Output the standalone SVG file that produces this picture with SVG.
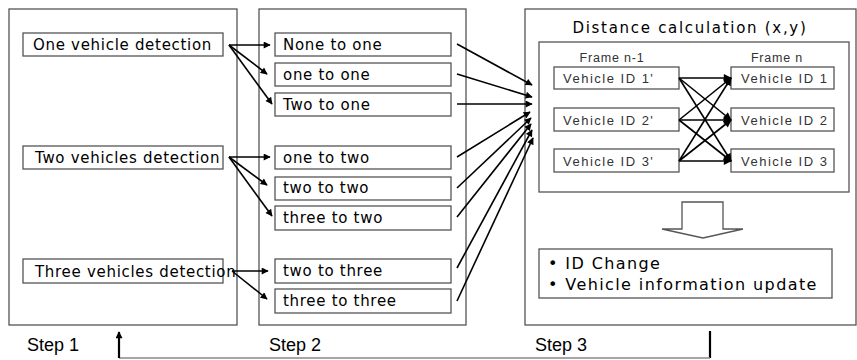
<svg xmlns="http://www.w3.org/2000/svg" width="857" height="360" viewBox="0 0 857 360">
<defs>
<marker id="ah" viewBox="0 0 10 10" refX="9" refY="5" markerWidth="9" markerHeight="7" markerUnits="userSpaceOnUse" orient="auto">
<path d="M0,0 L10,5 L0,10 z" fill="#000"/>
</marker>
<marker id="ahb" viewBox="0 0 10 10" refX="9" refY="5" markerWidth="10" markerHeight="8" markerUnits="userSpaceOnUse" orient="auto">
<path d="M0,0 L10,5 L0,10 z" fill="#000"/>
</marker>
</defs>
<style>
.step{fill:#fff;stroke:#555;stroke-width:1.3}
.nb{fill:#fff;stroke:#555;stroke-width:1.3}
.t{font-family:"DejaVu Sans",sans-serif;font-size:15px;letter-spacing:0.7px;fill:#000}
.v{font-family:"Liberation Sans",Arial,sans-serif;font-size:13px;letter-spacing:1.5px;fill:#333}
.f{font-family:"Liberation Sans",Arial,sans-serif;font-size:12.5px;letter-spacing:0.8px;fill:#333}
.s{font-family:"Liberation Sans",Arial,sans-serif;font-size:18px;fill:#000}
.b{font-family:"DejaVu Sans",sans-serif;font-size:16px;letter-spacing:1.4px;fill:#000}
.c line{stroke:#000;stroke-width:1.6;marker-end:url(#ah)}
.x line{stroke:#000;stroke-width:1.6;marker-end:url(#ahb)}
</style>
<rect width="857" height="360" fill="#fff"/>

<g id="step1">
<rect class="step" x="9" y="9" width="228" height="316"/>
<text class="s" x="27" y="351">Step 1</text>
</g>
<g id="step2">
<rect class="step" x="259" y="9" width="207" height="316"/>
<text class="s" x="269" y="351">Step 2</text>
</g>
<g id="step3">
<rect class="step" x="525" y="9" width="331" height="316"/>
<text class="s" x="535" y="351">Step 3</text>
<text x="690" y="33" text-anchor="middle" style="font-family:'DejaVu Sans',sans-serif;font-size:15px;letter-spacing:1.7px">Distance calculation (x,y)</text>
</g>

<g id="one-vehicle"><rect class="nb" x="23" y="33" width="200" height="23"/><text class="t" x="33" y="50">One vehicle detection</text></g>
<g id="two-vehicles"><rect class="nb" x="23" y="146" width="200" height="23"/><text class="t" x="35" y="163">Two vehicles detection</text></g>
<g id="three-vehicles"><rect class="nb" x="23" y="259" width="200" height="24"/><text class="t" x="35" y="277">Three vehicles detection</text></g>

<g id="none-to-one"><rect class="nb" x="275" y="33" width="176" height="23"/><text class="t" x="283" y="50">None to one</text></g>
<g id="one-to-one"><rect class="nb" x="275" y="63" width="176" height="23"/><text class="t" x="283" y="80">one to one</text></g>
<g id="two-to-one"><rect class="nb" x="275" y="93" width="176" height="23"/><text class="t" x="283" y="110">Two to one</text></g>
<g id="one-to-two"><rect class="nb" x="275" y="146" width="176" height="23"/><text class="t" x="283" y="163">one to two</text></g>
<g id="two-to-two"><rect class="nb" x="275" y="177" width="176" height="23"/><text class="t" x="283" y="193">two to two</text></g>
<g id="three-to-two"><rect class="nb" x="275" y="206" width="176" height="24"/><text class="t" x="283" y="223">three to two</text></g>
<g id="two-to-three"><rect class="nb" x="275" y="259" width="176" height="24"/><text class="t" x="283" y="276">two to three</text></g>
<g id="three-to-three"><rect class="nb" x="275" y="289" width="176" height="24"/><text class="t" x="283" y="306">three to three</text></g>

<g id="distance-panel">
<rect class="nb" x="539" y="42" width="310" height="150"/>
<text class="f" x="612" y="62" text-anchor="middle">Frame n-1</text>
<text class="f" x="777" y="62" text-anchor="middle">Frame n</text>
</g>
<g id="vid1p"><rect class="nb" x="554" y="67" width="125" height="22"/><text class="v" x="563" y="83">Vehicle ID 1'</text></g>
<g id="vid2p"><rect class="nb" x="554" y="108" width="125" height="23"/><text class="v" x="563" y="125">Vehicle ID 2'</text></g>
<g id="vid3p"><rect class="nb" x="554" y="149" width="125" height="23"/><text class="v" x="563" y="166">Vehicle ID 3'</text></g>
<g id="vid1"><rect class="nb" x="731" y="67" width="103" height="22"/><text class="v" x="741" y="83">Vehicle ID 1</text></g>
<g id="vid2"><rect class="nb" x="731" y="108" width="103" height="23"/><text class="v" x="741" y="125">Vehicle ID 2</text></g>
<g id="vid3"><rect class="nb" x="731" y="149" width="103" height="23"/><text class="v" x="741" y="166">Vehicle ID 3</text></g>

<g id="down-arrow">
<polygon points="682,202 723,202 723,229 743,229 703,238 662,229 682,229" fill="#fff" stroke="#555" stroke-width="1.3"/>
</g>

<g id="result">
<rect class="nb" x="539" y="249" width="293" height="49"/>
<text class="b" x="548" y="269">• ID Change</text>
<text class="b" x="548" y="290">• Vehicle information update</text>
</g>

<g id="connectors">
<g class="c">
<line x1="229" y1="45" x2="270" y2="45"/>
<line x1="229" y1="45" x2="267" y2="74"/>
<line x1="229" y1="45" x2="272" y2="104"/>
<line x1="229" y1="157" x2="270" y2="157"/>
<line x1="229" y1="157" x2="267" y2="185"/>
<line x1="229" y1="157" x2="272" y2="216"/>
<line x1="232" y1="271" x2="268" y2="271"/>
<line x1="232" y1="271" x2="267" y2="299"/>

<line x1="457" y1="44" x2="532" y2="85"/>
<line x1="457" y1="74" x2="532" y2="97"/>
<line x1="457" y1="104" x2="532" y2="104"/>
<line x1="457" y1="157" x2="530" y2="112"/>
<line x1="457" y1="188" x2="531" y2="118"/>
<line x1="457" y1="217" x2="531" y2="124"/>
<line x1="457" y1="268" x2="532" y2="130"/>
<line x1="457" y1="301" x2="533" y2="138"/>
</g>
<g class="x">
<line x1="679" y1="78" x2="731" y2="78"/>
<line x1="679" y1="78" x2="731" y2="120"/>
<line x1="679" y1="78" x2="731" y2="161"/>
<line x1="679" y1="120" x2="731" y2="78"/>
<line x1="679" y1="120" x2="731" y2="120"/>
<line x1="679" y1="120" x2="731" y2="161"/>
<line x1="679" y1="161" x2="731" y2="78"/>
<line x1="679" y1="161" x2="731" y2="120"/>
<line x1="679" y1="161" x2="731" y2="161"/>
</g>
<line x1="710" y1="331" x2="710" y2="358" stroke="#000" stroke-width="2.2"/>
<line x1="710" y1="358" x2="119" y2="358" stroke="#888" stroke-width="1.5"/>
<line x1="119" y1="358" x2="119" y2="332" stroke="#000" stroke-width="2.2" marker-end="url(#ah)"/>
</g>
</svg>
